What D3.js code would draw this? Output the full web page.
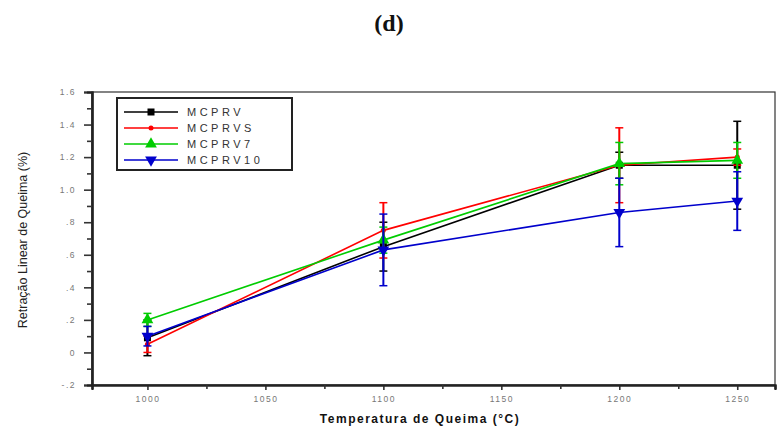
<!DOCTYPE html>
<html>
<head>
<meta charset="UTF-8">
<title>Retração Linear de Queima</title>
<script src="https://cdn.jsdelivr.net/npm/d3@7"></script>
<style>
  body { margin: 0; background: #fff; }
  svg { display: block; }
</style>
</head>
<body>
<svg id="chart" width="777" height="428"></svg>
<script>
// temperaturas de queima
var temps = [1000, 1100, 1200, 1250];
var seriesNames = ["MCPRV", "MCPRVS", "MCPRV7", "MCPRV10"];
var seriesColors = ["#000000", "#ff0000", "#00cc00", "#0000cc"];
// valores medios (%)
var mcprv   = [0.09, 0.65, 1.15, 1.15];
var mcprvs  = [0.05, 0.75, 1.15, 1.20];
var mcprv7  = [0.20, 0.69, 1.16, 1.18];
var mcprv10 = [0.10, 0.63, 0.86, 0.93];
// desvios
var errMcprv   = [0.11, 0.15, 0.08, 0.27];
var errMcprvs  = [0.05, 0.17, 0.23, 0.05];
var errMcprv7  = [0.04, 0.08, 0.13, 0.11];
var errMcprv10 = [0.06, 0.22, 0.21, 0.18];
var yTicks = [-0.2, 0, 0.2, 0.4, 0.6, 0.8, 1.0, 1.2, 1.4, 1.6];
var yTickLabels = ["-.2", "0", ".2", ".4", ".6", ".8", "1.0", "1.2", "1.4", "1.6"];
var xTicks = [1000, 1050, 1100, 1150, 1200, 1250];

var values = [mcprv, mcprvs, mcprv7, mcprv10];
var errors = [errMcprv, errMcprvs, errMcprv7, errMcprv10];

var svg = d3.select("#chart");
var L = 92, R = 775, T = 92, B = 385;

var x = d3.scaleLinear().domain([976.5, 1266]).range([L, R]);
var y = d3.scaleLinear().domain([-0.2, 1.6]).range([B, T]);

// titulo
svg.append("text").attr("x", 389).attr("y", 31).attr("text-anchor", "middle")
  .attr("font-family", "Liberation Serif, serif").attr("font-weight", "bold")
  .attr("font-size", 24).attr("fill", "#111").text("(d)");

// moldura
svg.append("rect").attr("x", L).attr("y", T).attr("width", R - L).attr("height", B - T)
  .attr("fill", "none").attr("stroke", "#333").attr("stroke-width", 1.2);

// eixo y
svg.append("g").attr("transform", "translate(" + L + ",0)")
  .call(d3.axisLeft(y).tickValues(yTicks).tickSize(8).tickPadding(8)
    .tickFormat(function (d, i) { return yTickLabels[i]; }));
svg.append("g").attr("transform", "translate(" + L + ",0)")
  .call(d3.axisLeft(y).tickValues(d3.range(-0.1, 1.6, 0.2)).tickSize(5).tickFormat(""));

// eixo x
svg.append("g").attr("transform", "translate(0," + B + ")")
  .call(d3.axisBottom(x).tickValues(xTicks).tickSize(5).tickPadding(6)
    .tickFormat(function (d) { return String(d); }));
svg.append("g").attr("transform", "translate(0," + B + ")")
  .call(d3.axisBottom(x).tickValues([1025, 1075, 1125, 1175, 1225]).tickSize(4).tickFormat(""));

svg.selectAll(".domain").attr("stroke", "#222").attr("stroke-width", 2.2);
svg.selectAll(".tick line").attr("stroke", "#333").attr("stroke-width", 1.6);
svg.selectAll(".tick text").attr("font-family", "Liberation Sans, Arial, sans-serif")
  .attr("font-size", 8.5).attr("fill", "#777").attr("letter-spacing", 1.5);

// rotulos dos eixos
svg.append("text").attr("transform", "translate(27,240) rotate(-90)")
  .attr("text-anchor", "middle").attr("font-family", "Liberation Sans Narrow, Liberation Sans, Arial, sans-serif")
  .attr("font-size", 12.5).attr("fill", "#222")
  .text("Retração Linear de Queima (%)");
svg.append("text").attr("x", 420).attr("y", 423).attr("text-anchor", "middle")
  .attr("font-family", "Liberation Sans, Arial, sans-serif").attr("font-weight", "bold")
  .attr("font-size", 12).attr("letter-spacing", 1.5).attr("fill", "#111")
  .text("Temperatura de Queima (°C)");

var line = d3.line().x(function (d, i) { return x(temps[i]); }).y(function (d) { return y(d); });

function marker(g, k, cx, cy, color) {
  if (k === 0) {
    g.append("rect").attr("x", cx - 3.5).attr("y", cy - 3.5).attr("width", 7).attr("height", 7).attr("fill", color);
  } else if (k === 1) {
    g.append("circle").attr("cx", cx).attr("cy", cy).attr("r", 2.5).attr("fill", color);
  } else if (k === 2) {
    g.append("path").attr("d", d3.symbol().type(d3.symbolTriangle).size(60)())
      .attr("transform", "translate(" + cx + "," + cy + ")").attr("fill", color);
  } else {
    g.append("path").attr("d", d3.symbol().type(d3.symbolTriangle).size(60)())
      .attr("transform", "translate(" + cx + "," + cy + ") rotate(180)").attr("fill", color);
  }
}

var plot = svg.append("g");
values.forEach(function (vals, k) {
  var color = seriesColors[k];
  var g = plot.append("g");
  g.append("path").datum(vals).attr("d", line).attr("fill", "none")
    .attr("stroke", color).attr("stroke-width", 1.6);
  vals.forEach(function (v, i) {
    var cx = x(temps[i]), e = errors[k][i];
    g.append("line").attr("x1", cx).attr("x2", cx).attr("y1", y(v - e)).attr("y2", y(v + e))
      .attr("stroke", color).attr("stroke-width", 2);
    [v - e, v + e].forEach(function (w) {
      g.append("line").attr("x1", cx - 4).attr("x2", cx + 4).attr("y1", y(w)).attr("y2", y(w))
        .attr("stroke", color).attr("stroke-width", 1.5);
    });
    marker(g, k, cx, y(v), color);
  });
});

// legenda
var leg = svg.append("g");
leg.append("rect").attr("x", 117).attr("y", 98).attr("width", 175).attr("height", 72)
  .attr("fill", "#fff").attr("stroke", "#222").attr("stroke-width", 2);
seriesNames.forEach(function (name, k) {
  var ly = 112 + k * 16;
  leg.append("line").attr("x1", 124).attr("x2", 178).attr("y1", ly).attr("y2", ly)
    .attr("stroke", seriesColors[k]).attr("stroke-width", 1.6);
  marker(leg, k, 151, ly, seriesColors[k]);
  leg.append("text").attr("x", 187).attr("y", ly + 4).attr("font-family", "Liberation Sans, Arial, sans-serif")
    .attr("font-size", 11).attr("letter-spacing", 3.5).attr("fill", "#333")
    .text(name);
});
</script>
</body>
</html>
